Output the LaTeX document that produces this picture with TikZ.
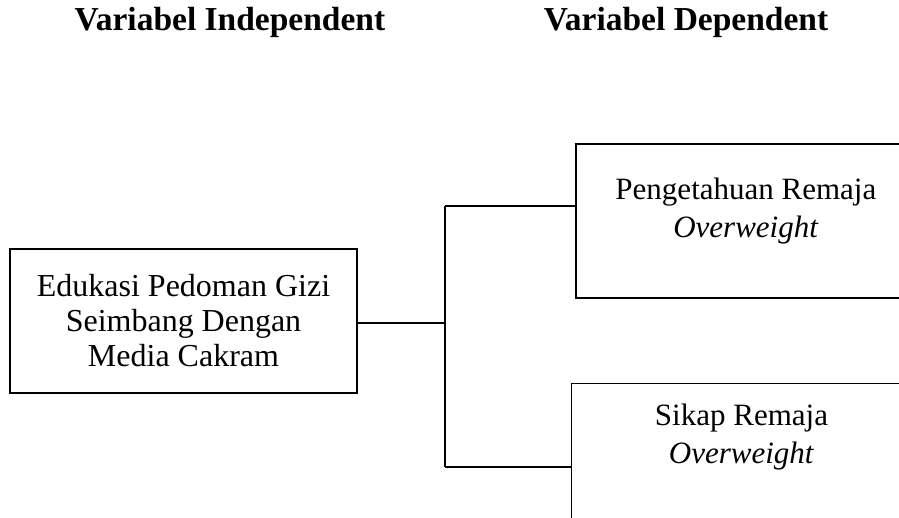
\documentclass[tikz,border=0pt]{standalone}
\usepackage{fontspec}
\setmainfont{Liberation Serif}
\usetikzlibrary{positioning}

\begin{document}
\begin{tikzpicture}[
        x=1pt, y=-1pt,
        head/.style={font=\fontsize{33.5}{38}\selectfont\bfseries, inner sep=0pt},
        indbox/.style={draw, line width=1.6pt, minimum width=347pt, minimum height=144pt,
            align=center, font=\fontsize{32}{35}\selectfont, inner sep=0pt},
        depbox/.style={draw, minimum width=340pt, minimum height=154pt, anchor=north west, inner sep=0pt},
        deptext/.style={align=center, font=\fontsize{31}{38}\selectfont, inner sep=0pt},
        conn/.style={draw, line width=2.6pt},
    ]
    \useasboundingbox (0,0) rectangle (899,518);

    % judul kolom
    \node[head] (hind) at (230,22) {Variabel Independent};
    \node[head] (hdep) at (686,22) {Variabel Dependent};

    % variabel independent
    \node[indbox] (ind) at (183.5,321) {Edukasi Pedoman Gizi\\Seimbang Dengan\\Media Cakram};

    % variabel dependent
    \node[depbox, line width=1.8pt] (dep1) at (575,143) {};
    \node[deptext] (peng) at ([yshift=-68pt]dep1.north) {Pengetahuan Remaja\\\textit{Overweight}};
    \node[depbox, line width=1pt] (dep2) at (571,383) {};
    \node[deptext] (sikap) at ([yshift=-54pt]dep2.north) {Sikap Remaja\\\textit{Overweight}};

    % garis penghubung
    \coordinate (jn) at (445,323);
    \coordinate (jtop) at (445,206);
    \coordinate (jbot) at (445,467);
    \draw[conn] (ind.east |- jn) -- (jn);
    \draw[conn] (jtop) -- (jbot);
    \draw[conn, line width=2.2pt] (jtop) -- (jtop -| dep1.west);
    \draw[conn, line width=2.2pt] (jbot) -- (jbot -| dep2.west);
\end{tikzpicture}
\end{document}
